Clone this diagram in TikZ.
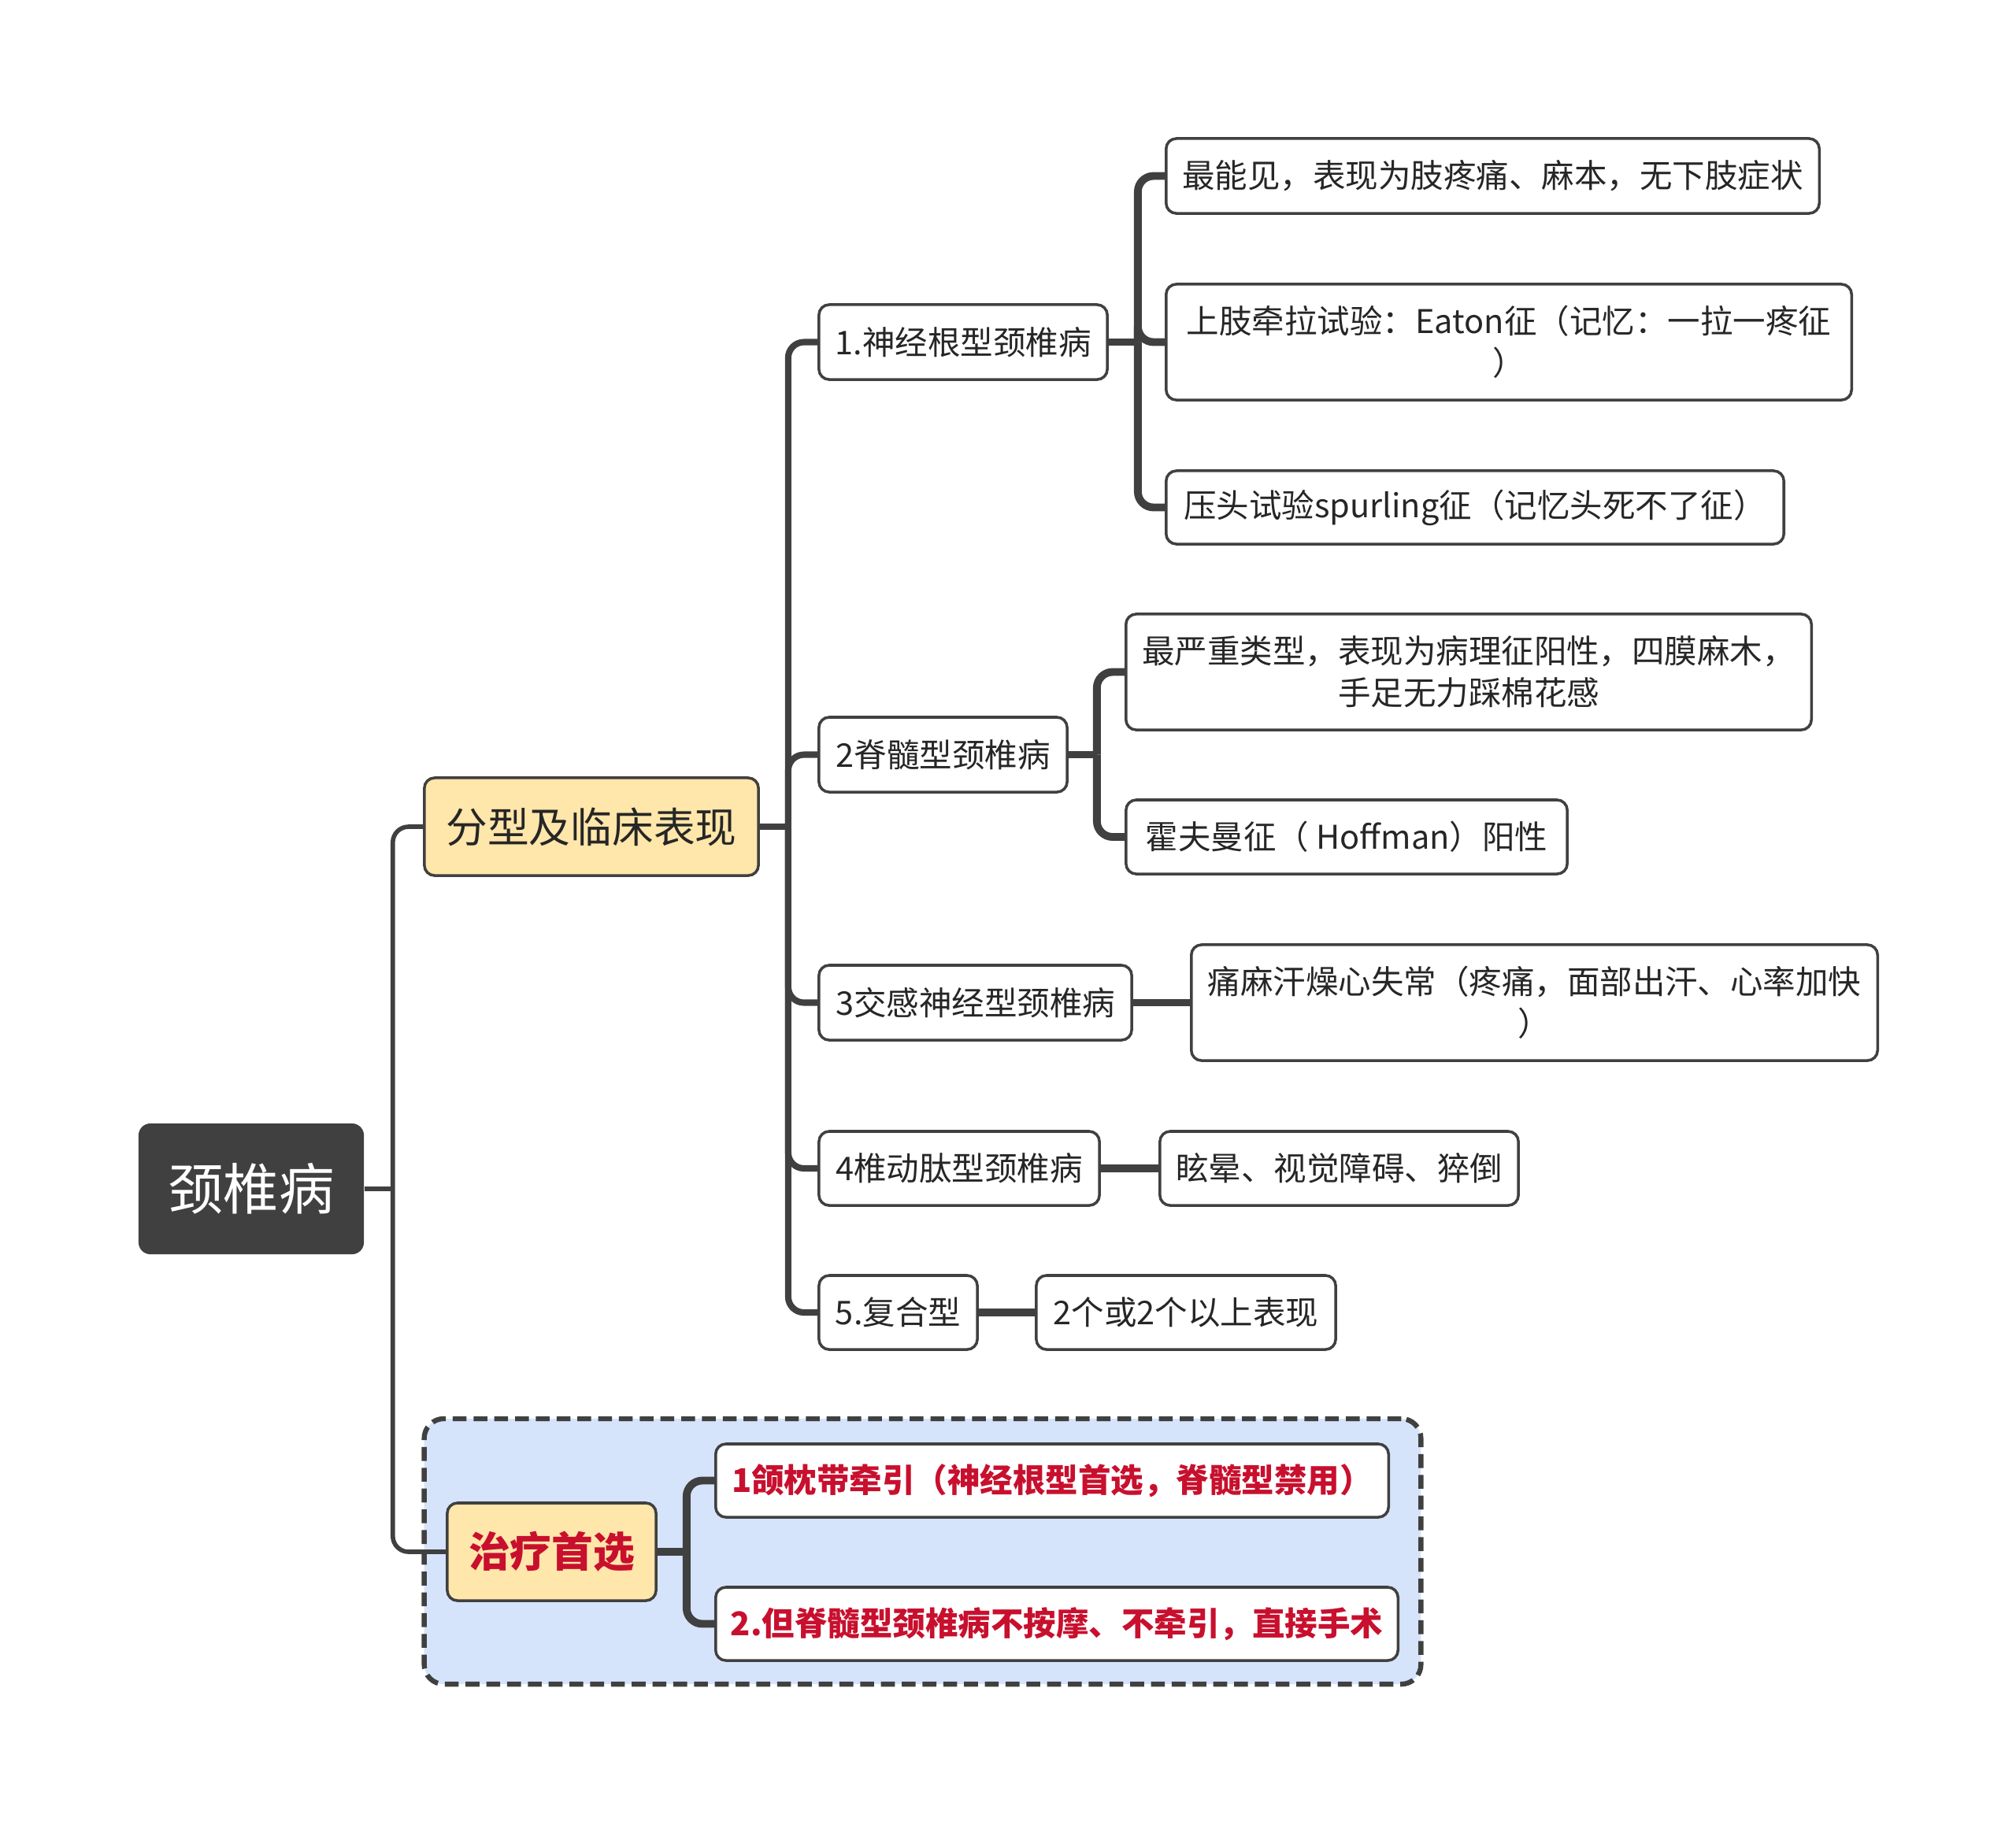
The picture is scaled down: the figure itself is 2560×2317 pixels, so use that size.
\documentclass[tikz,border=0pt]{standalone}
\usepackage{fontspec}
\setmainfont{Noto Sans CJK SC}
\definecolor{dk}{HTML}{404040}
\definecolor{txt}{HTML}{262626}
\definecolor{yel}{HTML}{FFE6AA}
\definecolor{blu}{HTML}{D5E4FB}
\definecolor{rd}{HTML}{C8102E}
\begin{document}
\begin{tikzpicture}[x=0.01cm,y=-0.01cm,
  box/.style={draw=dk, line width=1pt, rounded corners=0.13cm, fill=white, inner sep=0pt,
    align=center, text=txt, font=\fontsize{11.8}{15}\selectfont},
  rootbox/.style={fill=dk, draw=none, rounded corners=0.15cm, inner sep=0pt, text=white,
    font=\fontsize{20}{24}\selectfont},
  mainbox/.style={box, fill=yel, font=\fontsize{15}{18}\selectfont},
  redbox/.style={box, text=rd, font=\fontsize{11.8}{15}\selectfont\bfseries},
  region/.style={draw=dk, dashed, dash pattern=on 5pt off 2.5pt, line width=1.8pt, fill=blu,
    rounded corners=0.25cm, inner sep=0pt},
  c1/.style={draw=dk, line width=1.6pt, rounded corners=0.2cm},
  c2/.style={draw=dk, line width=2.3pt, rounded corners=0.2cm},
  c3/.style={draw=dk, line width=2.8pt, rounded corners=0.2cm}
]
\useasboundingbox (0,0) rectangle (2560,2317);

% group region
\node[region, minimum width=12.65cm, minimum height=3.37cm] (grp) at (1171.5,1970.5) {};

% root and main branches
\node[rootbox, minimum width=2.86cm, minimum height=1.66cm] (root) at (319,1510) {颈椎病};
\node[mainbox, minimum width=4.24cm, minimum height=1.24cm] (fx) at (751,1050) {分型及临床表现};
\node[mainbox, minimum width=2.65cm, minimum height=1.24cm, text=rd, font=\fontsize{15}{18}\selectfont\bfseries] (zl) at (700.5,1971) {治疗首选};

% types
\node[box, minimum width=3.66cm, minimum height=0.95cm] (n1) at (1223,434.5) {1.神经根型颈椎病};
\node[box, minimum width=3.15cm, minimum height=0.95cm] (n2) at (1197.5,958.5) {2脊髓型颈椎病};
\node[box, minimum width=3.97cm, minimum height=0.95cm] (n3) at (1238.5,1273.5) {3交感神经型颈椎病};
\node[box, minimum width=3.56cm, minimum height=0.94cm] (n4) at (1218,1484) {4椎动肽型颈椎病};
\node[box, minimum width=2.01cm, minimum height=0.94cm] (n5) at (1140.5,1667) {5.复合型};

% leaves
\node[box, minimum width=8.29cm, minimum height=0.95cm] (l11) at (1895.5,223.5) {最能见，表现为肢疼痛、麻本，无下肢症状};
\node[box, minimum width=8.70cm, minimum height=1.47cm] (l12) at (1916,434.5) {上肢牵拉试验：Eaton征（记忆：一拉一疼征\\）};
\node[box, minimum width=7.84cm, minimum height=0.93cm] (l13) at (1873,644.5) {压头试验spurling征（记忆头死不了征）};
\node[box, minimum width=8.70cm, minimum height=1.47cm] (l21) at (1865,853.5) {最严重类型，表现为病理征阳性，四膜麻木，\\手足无力踩棉花感};
\node[box, minimum width=5.60cm, minimum height=0.94cm] (l22) at (1710,1063) {霍夫曼征（ Hoffman）阳性};
\node[box, minimum width=8.71cm, minimum height=1.47cm] (l3) at (1948.5,1273.5) {痛麻汗燥心失常（疼痛，面部出汗、心率加快\\）};
\node[box, minimum width=4.55cm, minimum height=0.94cm] (l4) at (1700.5,1484) {眩晕、视觉障碍、猝倒};
\node[box, minimum width=3.80cm, minimum height=0.94cm] (l5) at (1506,1667) {2个或2个以上表现};

% treatment leaves
\node[redbox, minimum width=8.54cm, minimum height=0.93cm] (t1) at (1336,1880.5) {1颌枕带牵引（神经根型首选，脊髓型禁用）};
\node[redbox, minimum width=8.66cm, minimum height=0.93cm] (t2) at (1342,2062.5) {2.但脊髓型颈椎病不按摩、不牵引，直接手术};

% connectors: root
\draw[c1] (root.east) -- ++(36,0) coordinate (rj);
\draw[c1] (rj) |- (fx.west);
\draw[c1] (rj) |- (zl.west);

% connectors: 分型
\draw[c2] (fx.east) -- ++(36,0) coordinate (fj);
\foreach \n in {n1,n2,n3,n4,n5} \draw[c2] (fj) |- (\n.west);

% connectors: 1
\draw[c3] (n1.east) -- ++(37,0) coordinate (j1);
\foreach \n in {l11,l12,l13} \draw[c3] (j1) |- (\n.west);

% connectors: 2
\draw[c3] (n2.east) -- ++(36,0) coordinate (j2);
\foreach \n in {l21,l22} \draw[c3] (j2) |- (\n.west);

% connectors: 3,4,5
\draw[c3] (n3.east) -- (l3.west);
\draw[c3] (n4.east) -- (l4.west);
\draw[c3] (n5.east) -- (l5.west);

% connectors: 治疗
\draw[c3] (zl.east) -- ++(37,0) coordinate (jt);
\foreach \n in {t1,t2} \draw[c3] (jt) |- (\n.west);
\end{tikzpicture}
\end{document}
